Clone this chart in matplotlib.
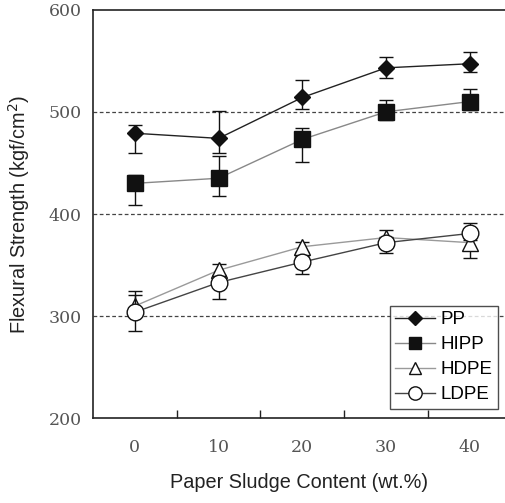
import matplotlib
matplotlib.use("Agg")
import matplotlib.pyplot as plt
import numpy as np

categories = ["0", "10", "20", "30", "40"]
y_ticks = [200, 300, 400, 500, 600]

pp = [479, 474, 514, 543, 547]
pp_lo = [19, 14, 11, 10, 8]
pp_hi = [8, 27, 17, 11, 11]

hipp = [430, 435, 473, 500, 510]
hipp_lo = [21, 17, 22, 8, 8]
hipp_hi = [8, 22, 11, 12, 12]

hdpe = [310, 345, 368, 377, 372]
hdpe_lo = [5, 5, 5, 5, 15]
hdpe_hi = [11, 6, 5, 7, 5]

ldpe = [304, 333, 353, 372, 381]
ldpe_lo = [18, 16, 12, 10, 6]
ldpe_hi = [21, 6, 6, 6, 10]

fig = plt.figure(figsize=(5.05, 5.03), dpi=100)
ax = fig.add_axes([0.184, 0.168, 0.816, 0.813])

x = np.arange(len(categories))

series = [
    ("PP", pp, pp_lo, pp_hi, "D", 8.5, "#111111", "#222222", 2),
    ("HIPP", hipp, hipp_lo, hipp_hi, "s", 11.5, "#111111", "#888888", 3),
    ("HDPE", hdpe, hdpe_lo, hdpe_hi, "^", 11, "white", "#9a9a9a", 4),
    ("LDPE", ldpe, ldpe_lo, ldpe_hi, "o", 12, "white", "#444444", 5),
]

for name, vals, lo, hi, mk, ms, fc, lc, z in series:
    ax.errorbar(x, vals, yerr=[lo, hi], fmt="none", ecolor="#111111",
                elinewidth=1.0, capsize=5, capthick=1.0, zorder=z)
    ax.plot(x, vals, color=lc, linewidth=1.0, zorder=z, label=name,
            marker=mk, markersize=ms, markerfacecolor=fc,
            markeredgecolor="#111111", markeredgewidth=1.0)

ax.set_xlim(-0.5, 4.42)
ax.set_ylim(200, 600)

for g in [300, 400, 500]:
    ax.axhline(g, color="#444444", linestyle=(0, (3, 2)), linewidth=0.9, zorder=1)

tick_font = {"family": "DejaVu Serif", "size": 12.5}
ax.set_xticks(x)
ax.set_xticklabels(categories, fontdict=tick_font, color="#555555")
ax.set_xticks(x[:-1] + 0.5, minor=True)
ax.tick_params(axis="x", which="major", length=0, pad=15)
ax.tick_params(axis="x", which="minor", direction="in", length=6, width=1, color="#222222")

ax.set_yticks(y_ticks)
ax.set_yticklabels([str(v) for v in y_ticks], fontdict=tick_font, color="#555555")
ax.tick_params(axis="y", length=0, pad=8)

for s in ["left", "top", "bottom"]:
    ax.spines[s].set_color("#222222")
    ax.spines[s].set_linewidth(1.2)
ax.spines["right"].set_visible(False)

ax.set_xlabel("Paper Sludge Content (wt.%)", fontfamily="Liberation Sans",
              fontsize=14.3, color="#222222", labelpad=12)
ax.set_ylabel("Flexural Strength (kgf/cm$^2$)", fontfamily="Liberation Sans",
              fontsize=14.3, color="#222222", labelpad=12)

leg = ax.legend(loc="lower right", bbox_to_anchor=(0.983, 0.023), borderaxespad=0,
                prop={"family": "Liberation Sans", "size": 13.5}, frameon=True,
                fancybox=False, edgecolor="#222222", handlelength=2.1,
                handletextpad=0.3, labelspacing=0.42, borderpad=0.3)
leg.get_frame().set_linewidth(1.0)
for h in leg.legend_handles:
    h.set_markersize(h.get_markersize() * 0.8)

fig.savefig("out.png", dpi=100)
